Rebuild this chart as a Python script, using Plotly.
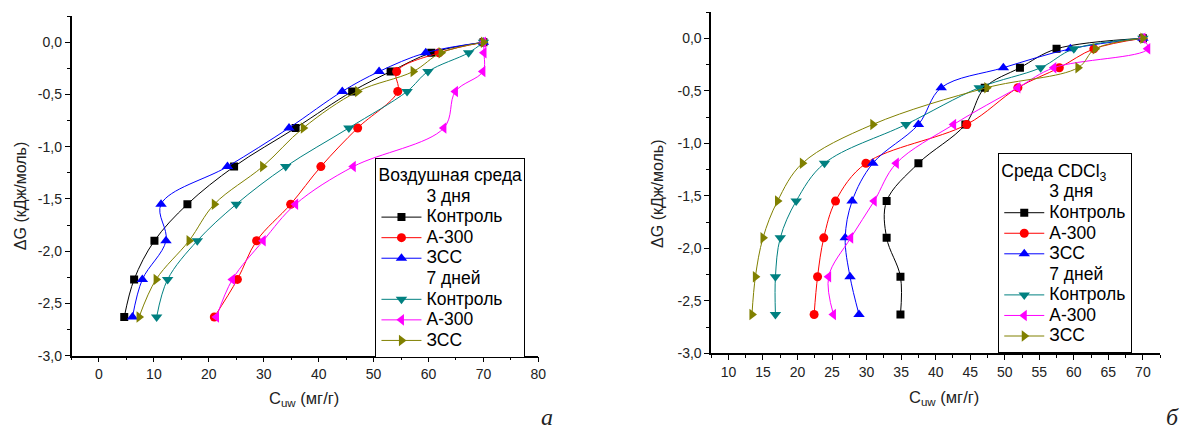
import plotly.graph_objects as go

# Shared ΔG levels (кДж/моль)
dG = [0, -0.10, -0.28, -0.47, -0.82, -1.19, -1.55, -1.90, -2.27, -2.63]

# Panel а: Воздушная среда, C_uw (мг/г)
air_ctrl3 = [70, 60.5, 53.1, 46.1, 35.8, 24.6, 16.1, 10.1, 6.4, 4.6]
air_a300_3 = [70, 61.9, 54.2, 54.4, 47.1, 40.4, 34.9, 28.7, 25.2, 21.0]
air_zss3 = [70, 59.5, 51.0, 44.3, 34.6, 23.4, 11.3, 12.2, 7.9, 6.1]
air_ctrl7 = [70, 67.3, 59.9, 56.1, 45.5, 34.0, 25.0, 17.9, 12.5, 10.5]
air_a300_7 = [70, 70.1, 69.9, 64.9, 62.8, 46.3, 35.8, 29.9, 24.3, 21.4]
air_zss7 = [70, 62.3, 57.2, 47.1, 37.2, 29.8, 21.0, 16.4, 10.4, 7.3]

# Panel б: Среда CDCl3, C_uw (мг/г)
cd_ctrl3 = [70, 57.5, 52.2, 47.1, 44.3, 37.5, 32.9, 32.9, 34.9, 34.9]
cd_a300_3 = [70, 62.9, 57.9, 51.9, 44.5, 29.9, 25.5, 23.8, 22.9, 22.4]
cd_zss3 = [70, 59.5, 49.8, 40.8, 37.5, 30.9, 27.9, 26.9, 27.6, 28.9]
cd_ctrl7 = [70, 60.0, 55.2, 46.3, 35.7, 23.9, 19.8, 17.5, 16.8, 16.8]
cd_a300_7 = [70, 70.7, 57.1, 51.9, 42.6, 34.3, 31.1, 27.7, 24.5, 25.2]
cd_zss7 = [70, 63.1, 60.6, 47.4, 30.9, 20.7, 17.1, 15.0, 13.9, 13.4]

names = ["Контроль", "А-300", "ЗСС", "Контроль", "А-300", "ЗСС"]
groups = ["3 дня", "7 дней"]

y_ticks = [-3.0, -2.5, -2.0, -1.5, -1.0, -0.5, 0.0]
y_ticktext = ["-3,0", "-2,5", "-2,0", "-1,5", "-1,0", "-0,5", "0,0"]
y_minor = [-2.75, -2.25, -1.75, -1.25, -0.75, -0.25, 0.25]
xa_ticks = [0, 10, 20, 30, 40, 50, 60, 70, 80]
xa_minor = [-5, 5, 15, 25, 35, 45, 55, 65, 75]
xb_ticks = [10, 15, 20, 25, 30, 35, 40, 45, 50, 55, 60, 65, 70]
xb_minor = [7.5, 12.5, 17.5, 22.5, 27.5, 32.5, 37.5, 42.5, 47.5, 52.5, 57.5, 62.5, 67.5, 72.5]

colors = ["#000000", "#FF0000", "#0000FF", "#008080", "#FF00FF", "#808000"]
symbols = ["square", "circle", "triangle-up", "triangle-down", "triangle-left", "triangle-right"]
sizes = [8, 9, 10, 10, 10, 10]

FONT = "Liberation Sans, Arial, sans-serif"
W, H = 1192, 435
LEG_TXT = 17.5


def big(s):
    return f"<span style='font-size:{LEG_TXT}px'>{s}</span>"


fig = go.Figure()

panels = [
    ("x", "y", "legend", [air_ctrl3, air_a300_3, air_zss3, air_ctrl7, air_a300_7, air_zss7]),
    ("x2", "y2", "legend2", [cd_ctrl3, cd_a300_3, cd_zss3, cd_ctrl7, cd_a300_7, cd_zss7]),
]

for xa, ya, leg, series in panels:
    for i, xs in enumerate(series):
        if i in (0, 3):
            fig.add_trace(go.Scatter(
                x=[None], y=[None], mode="lines", name=big(groups[i // 3]),
                line=dict(color="rgba(0,0,0,0)", width=0),
                xaxis=xa, yaxis=ya, legend=leg, hoverinfo="skip"))
        fig.add_trace(go.Scatter(
            x=xs, y=dG, mode="lines+markers", name=big(names[i]),
            line=dict(color=colors[i], width=1, shape="spline", smoothing=1.0),
            marker=dict(symbol=symbols[i], size=sizes[i], color=colors[i],
                        line=dict(width=0)),
            xaxis=xa, yaxis=ya, legend=leg))


def px_x(p):
    return p / W


def px_y(p):
    return 1 - p / H


common_axis = dict(showline=True, linecolor="black", linewidth=1.5, mirror=False,
                   showgrid=False, zeroline=False, ticks="outside", ticklen=5,
                   tickwidth=1.2, tickcolor="black",
                   tickfont=dict(family=FONT, size=14, color="#222"))

minor_common = dict(tickmode="array", ticks="outside", ticklen=3,
                    tickcolor="black", tickwidth=1.2)

fig.update_layout(
    width=W, height=H, autosize=False,
    margin=dict(l=0, r=0, t=0, b=0),
    paper_bgcolor="white", plot_bgcolor="white",
    font=dict(family=FONT, size=14, color="black"),
    xaxis=dict(domain=[px_x(72), px_x(542)], range=[-5, 80], anchor="y",
               tickmode="array", tickvals=xa_ticks, ticktext=[str(v) for v in xa_ticks],
               minor=dict(tickvals=xa_minor, **minor_common),
               **common_axis),
    yaxis=dict(domain=[px_y(362.3), px_y(16.5)], range=[-3, 0.25], anchor="x",
               tickmode="array", tickvals=y_ticks, ticktext=y_ticktext,
               minor=dict(tickvals=y_minor, **minor_common),
               **common_axis),
    xaxis2=dict(domain=[px_x(716), px_x(1168)], range=[7.5, 72.5], anchor="y2",
                tickmode="array", tickvals=xb_ticks, ticktext=[str(v) for v in xb_ticks],
                minor=dict(tickvals=xb_minor, **minor_common),
                **common_axis),
    yaxis2=dict(domain=[px_y(360), px_y(12.3)], range=[-3, 0.25], anchor="x2",
                tickmode="array", tickvals=y_ticks, ticktext=y_ticktext,
                minor=dict(tickvals=y_minor, **minor_common),
                **common_axis),
    legend=dict(x=px_x(378), y=px_y(160.5), xanchor="left", yanchor="top",
                bordercolor="black", borderwidth=1, bgcolor="white",
                font=dict(family=FONT, size=13.5, color="black"),
                title=dict(text="Воздушная среда", font=dict(family=FONT, size=LEG_TXT)),
                itemwidth=40, tracegroupgap=0, traceorder="normal"),
    legend2=dict(x=px_x(1005), y=px_y(156), xanchor="left", yanchor="top",
                 bordercolor="black", borderwidth=1, bgcolor="white",
                 font=dict(family=FONT, size=13.5, color="black"),
                 title=dict(text="Среда CDCl<sub>3</sub>", font=dict(family=FONT, size=LEG_TXT)),
                 itemwidth=40, tracegroupgap=0, traceorder="normal"),
    showlegend=True,
)

annos = [
    dict(text="ΔG (кДж/моль)", x=20, y=200, angle=-90, size=16, fam=FONT),
    dict(text="ΔG (кДж/моль)", x=662, y=198, angle=-90, size=16, fam=FONT),
    dict(text="C<sub>uw</sub> (мг/г)", x=306, y=406, angle=0, size=16.5, fam=FONT),
    dict(text="C<sub>uw</sub> (мг/г)", x=950, y=405, angle=0, size=16.5, fam=FONT),
    dict(text="<i>а</i>", x=551, y=425, angle=0, size=24, fam="Liberation Serif, Times New Roman, serif"),
    dict(text="<i>б</i>", x=1180, y=425, angle=0, size=24, fam="Liberation Serif, Times New Roman, serif"),
]
for a in annos:
    fig.add_annotation(text=a["text"], x=px_x(a["x"]), y=px_y(a["y"]), xref="paper", yref="paper",
                       xanchor="center", yanchor="middle", showarrow=False,
                       textangle=a["angle"],
                       font=dict(family=a["fam"], size=a["size"], color="#222"))

post = (
    "var h=document.documentElement, b=document.body;"
    "h.style.margin='0'; h.style.padding='0'; h.style.overflow='hidden';"
    "b.style.margin='0'; b.style.padding='0'; b.style.overflow='hidden';"
    "b.style.width='1192px'; b.style.height='435px';"
)

fig.write_html("out.html", config={"displayModeBar": False, "responsive": False},
               post_script=post)
